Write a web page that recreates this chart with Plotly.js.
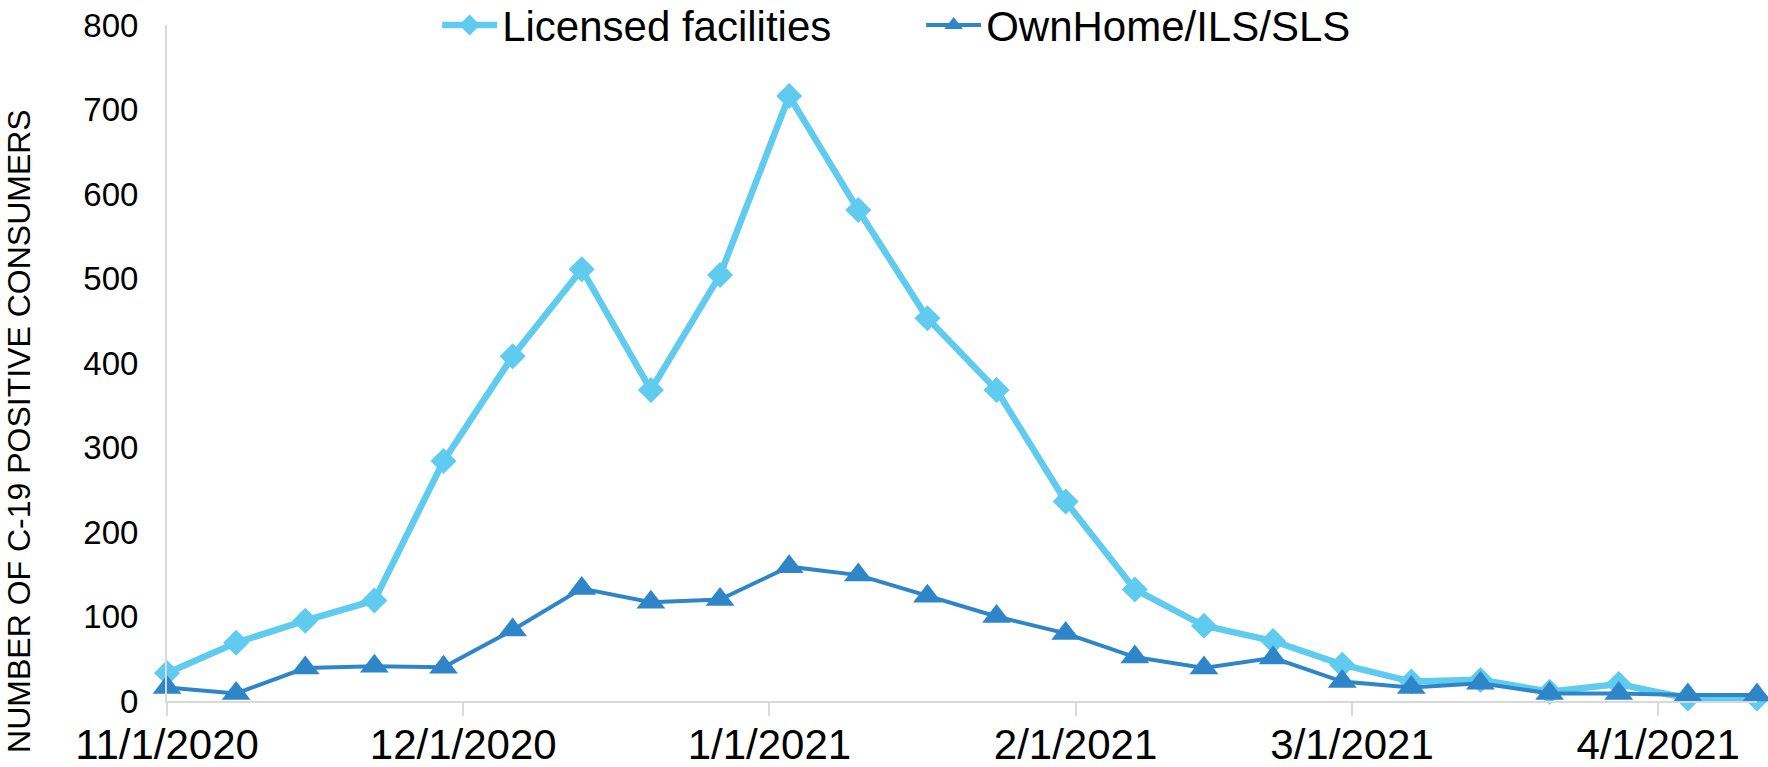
<!DOCTYPE html>
<html>
<head>
<meta charset="utf-8">
<script src="https://cdn.plot.ly/plotly-3.0.1.min.js"></script>
<style>
  html, body { margin: 0; padding: 0; background: #fff; }
  #chart { width: 1768px; height: 767px; }
</style>
</head>
<body>
<div id="chart"></div>
<script>
const dates = ['2020-11-01','2020-11-08','2020-11-15','2020-11-22','2020-11-29','2020-12-06',
  '2020-12-13','2020-12-20','2020-12-27','2021-01-03','2021-01-10','2021-01-17','2021-01-24',
  '2021-01-31','2021-02-07','2021-02-14','2021-02-21','2021-02-28','2021-03-07','2021-03-14',
  '2021-03-21','2021-03-28','2021-04-04','2021-04-11'];
const licensed = [33, 69, 95, 119, 284, 408, 511, 368, 504, 716, 581, 453, 368, 236, 132, 89, 71, 43, 23, 25, 11, 20, 3, 3];
const ownHome  = [16, 9, 39, 41, 40, 84, 133, 117, 120, 159, 149, 124, 100, 80, 52, 39, 51, 23, 16, 21, 9, 9, 7, 7];
const seriesNames = ['Licensed facilities', 'OwnHome/ILS/SLS'];
const xTickVals = ['2020-11-01','2020-12-01','2021-01-01','2021-02-01','2021-03-01','2021-04-01'];
const xTickText = ['11/1/2020','12/1/2020','1/1/2021','2/1/2021','3/1/2021','4/1/2021'];
const yTickVals = [0, 100, 200, 300, 400, 500, 600, 700, 800];
const yTitle = 'NUMBER OF C-19 POSITIVE CONSUMERS';

const FONT = 'Liberation Sans, Arial, sans-serif';

const traces = [
  {
    x: dates, y: licensed, name: seriesNames[0], type: 'scatter', mode: 'lines+markers',
    line: {color: '#5ECBEF', width: 6.5},
    marker: {symbol: 'diamond', size: 20, color: '#5ECBEF'},
    cliponaxis: false
  },
  {
    x: dates, y: ownHome, name: seriesNames[1], type: 'scatter', mode: 'lines+markers',
    line: {color: '#2E86C8', width: 4},
    marker: {symbol: 'triangle-up', size: 25, color: '#2E86C8'},
    cliponaxis: false
  }
];

const layout = {
  width: 1768, height: 767,
  margin: {l: 167, r: 11, t: 25, b: 66, autoexpand: false},
  paper_bgcolor: '#fff', plot_bgcolor: '#fff',
  font: {family: FONT, color: '#000'},
  showlegend: true,
  legend: {
    orientation: 'h', xref: 'container', yref: 'paper',
    x: 0.521, xanchor: 'center', y: 1.05, yanchor: 'top',
    font: {size: 42, family: FONT, color: '#000'},
    entrywidth: 414, itemwidth: 55, bgcolor: 'rgba(0,0,0,0)'
  },
  xaxis: {
    type: 'date',
    range: ['2020-11-01', '2021-04-11'],
    tickvals: xTickVals, ticktext: xTickText,
    tickfont: {size: 42, family: FONT},
    showgrid: false, zeroline: false,
    showline: true, linecolor: '#d9d9d9', linewidth: 2,
    ticks: 'outside', ticklen: 13, tickcolor: '#d9d9d9', tickwidth: 2,
    ticklabelstandoff: -7
  },
  yaxis: {
    range: [0, 800],
    tickvals: yTickVals,
    tickfont: {size: 33, family: FONT},
    showgrid: false, zeroline: false,
    showline: true, linecolor: '#d9d9d9', linewidth: 2,
    ticks: '', ticklabelstandoff: 20
  },
  annotations: [{
    text: yTitle, textangle: -90, showarrow: false,
    xref: 'paper', yref: 'paper', x: -0.0935, y: 0.4, xanchor: 'center', yanchor: 'middle',
    font: {size: 32, family: FONT, color: '#000'}
  }]
};

Plotly.newPlot('chart', traces, layout, {displayModeBar: false, staticPlot: true});
</script>
</body>
</html>
